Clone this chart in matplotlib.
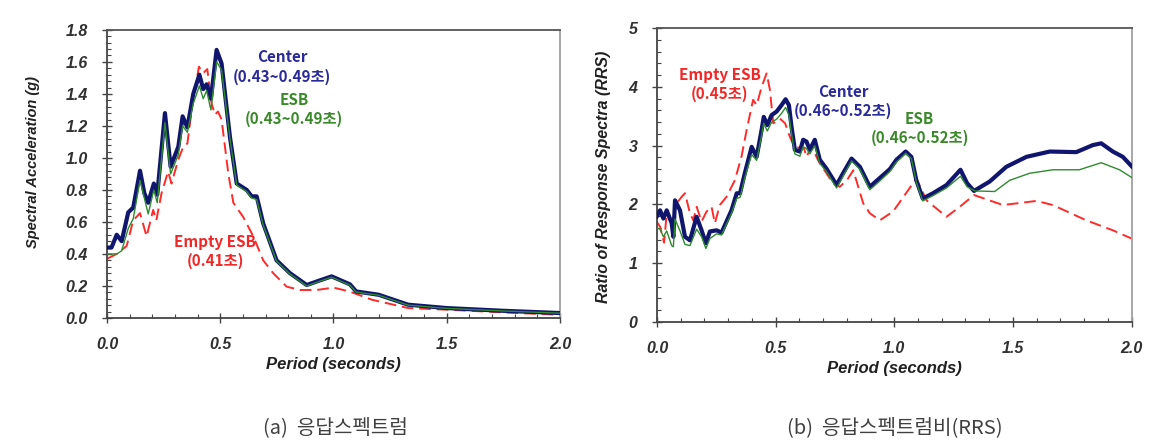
import matplotlib.pyplot as plt
from matplotlib.ticker import MultipleLocator, FormatStrFormatter

# (a) response spectrum, Sa (g)
period_a_center = [0, 0.02, 0.043, 0.065, 0.094, 0.116, 0.146, 0.165, 0.182, 0.207, 0.222, 0.256, 0.281, 0.315,
                   0.334, 0.355, 0.381, 0.408, 0.425, 0.44, 0.459, 0.484, 0.506, 0.543, 0.573, 0.617, 0.639, 0.661,
                   0.69, 0.749, 0.808, 0.882, 0.94, 0.992, 1.073, 1.10, 1.2, 1.33, 1.5, 1.75, 2.0]
sa_center = [0.44, 0.44, 0.52, 0.48, 0.66, 0.69, 0.92, 0.78, 0.72, 0.84, 0.77, 1.28, 0.945, 1.07, 1.26, 1.19, 1.40,
             1.52, 1.43, 1.46, 1.37, 1.675, 1.59, 1.13, 0.84, 0.80, 0.76, 0.76, 0.59, 0.36, 0.28, 0.206, 0.235, 0.26,
             0.21, 0.166, 0.145, 0.083, 0.062, 0.045, 0.031]

period_a_esb = [0, 0.043, 0.065, 0.094, 0.116, 0.146, 0.182, 0.207, 0.222, 0.256, 0.281, 0.315, 0.334, 0.355, 0.381,
                0.408, 0.425, 0.44, 0.459, 0.484, 0.506, 0.543, 0.573, 0.617, 0.639, 0.661, 0.69, 0.749, 0.808, 0.882,
                0.94, 0.992, 1.073, 1.10, 1.2, 1.33, 1.5, 1.75, 2.0]
sa_esb = [0.40, 0.40, 0.42, 0.56, 0.62, 0.86, 0.65, 0.80, 0.72, 1.22, 0.90, 1.02, 1.20, 1.16, 1.34, 1.45, 1.37, 1.42,
          1.30, 1.60, 1.55, 1.12, 0.83, 0.79, 0.75, 0.74, 0.58, 0.355, 0.275, 0.20, 0.23, 0.255, 0.205, 0.162, 0.142,
          0.08, 0.06, 0.044, 0.03]

period_a_empty = [0, 0.043, 0.087, 0.116, 0.146, 0.175, 0.204, 0.218, 0.241, 0.27, 0.285, 0.315, 0.337, 0.355, 0.374,
                  0.406, 0.425, 0.443, 0.462, 0.477, 0.49, 0.506, 0.536, 0.558, 0.602, 0.646, 0.69, 0.734, 0.793, 0.852,
                  0.926, 1.0, 1.07, 1.17, 1.33, 1.5, 1.75, 2.0]
sa_empty = [0.37, 0.40, 0.45, 0.61, 0.655, 0.51, 0.675, 0.61, 0.78, 0.915, 0.84, 0.99, 1.07, 1.09, 1.30, 1.57, 1.53,
            1.555, 1.34, 1.27, 1.29, 1.24, 0.90, 0.72, 0.63, 0.51, 0.36, 0.28, 0.196, 0.175, 0.175, 0.19, 0.166,
            0.114, 0.062, 0.052, 0.035, 0.02]

# (b) ratio of response spectra
period_b_center = [0, 0.013, 0.027, 0.041, 0.062, 0.069, 0.076, 0.097, 0.118, 0.139, 0.167, 0.188, 0.206, 0.223,
                   0.251, 0.272, 0.314, 0.336, 0.35, 0.37, 0.399, 0.42, 0.441, 0.45, 0.465, 0.483, 0.504, 0.525,
                   0.542, 0.556, 0.567, 0.581, 0.602, 0.616, 0.63, 0.644, 0.665, 0.686, 0.714, 0.757, 0.784, 0.82,
                   0.855, 0.897, 0.939, 0.981, 1.009, 1.048, 1.072, 1.093, 1.12, 1.163, 1.22, 1.279, 1.307, 1.336,
                   1.402, 1.472, 1.557, 1.655, 1.767, 1.837, 1.872, 1.921, 1.963, 2.0]
rrs_center = [1.80, 1.90, 1.76, 1.90, 1.68, 1.45, 2.07, 1.90, 1.45, 1.39, 1.79, 1.56, 1.34, 1.54, 1.56, 1.52, 1.90,
              2.19, 2.19, 2.53, 2.98, 2.81, 3.27, 3.49, 3.35, 3.52, 3.58, 3.69, 3.79, 3.69, 3.32, 2.93, 2.90, 3.10,
              3.07, 2.93, 3.10, 2.76, 2.61, 2.33, 2.53, 2.78, 2.64, 2.30, 2.45, 2.60, 2.76, 2.90, 2.81, 2.41, 2.10,
              2.19, 2.33, 2.59, 2.36, 2.23, 2.39, 2.64, 2.81, 2.90, 2.89, 3.01, 3.04, 2.90, 2.81, 2.65]

period_b_esb = [0, 0.013, 0.027, 0.041, 0.062, 0.069, 0.076, 0.097, 0.118, 0.139, 0.167, 0.188, 0.206, 0.223, 0.251,
                0.272, 0.314, 0.336, 0.35, 0.37, 0.399, 0.42, 0.441, 0.45, 0.465, 0.483, 0.504, 0.525, 0.542, 0.556,
                0.567, 0.581, 0.602, 0.616, 0.63, 0.644, 0.665, 0.686, 0.714, 0.757, 0.784, 0.82, 0.855, 0.897,
                0.939, 0.981, 1.009, 1.048, 1.072, 1.093, 1.12, 1.163, 1.22, 1.279, 1.307, 1.34, 1.423, 1.486, 1.57,
                1.669, 1.78, 1.872, 1.949, 2.0]
rrs_esb = [1.60, 1.58, 1.45, 1.55, 1.30, 1.28, 1.75, 1.55, 1.32, 1.30, 1.58, 1.45, 1.25, 1.42, 1.50, 1.48, 1.85,
           2.10, 2.12, 2.45, 2.85, 2.75, 3.18, 3.38, 3.25, 3.40, 3.45, 3.55, 3.65, 3.52, 3.20, 2.86, 2.82, 2.98,
           2.95, 2.86, 3.00, 2.70, 2.56, 2.28, 2.48, 2.74, 2.60, 2.25, 2.40, 2.56, 2.72, 2.87, 2.78, 2.38, 2.06,
           2.15, 2.28, 2.48, 2.30, 2.23, 2.22, 2.41, 2.53, 2.59, 2.59, 2.71, 2.59, 2.46]

period_b_empty = [0, 0.013, 0.03, 0.041, 0.062, 0.083, 0.104, 0.118, 0.139, 0.153, 0.167, 0.188, 0.209, 0.23, 0.244,
                  0.265, 0.293, 0.328, 0.356, 0.378, 0.405, 0.42, 0.441, 0.462, 0.476, 0.49, 0.518, 0.54, 0.56, 0.58,
                  0.62, 0.63, 0.651, 0.686, 0.714, 0.742, 0.77, 0.8, 0.827, 0.84, 0.869, 0.897, 0.939, 0.995, 1.093,
                  1.136, 1.22, 1.276, 1.336, 1.458, 1.599, 1.668, 1.809, 1.921, 2.0]
rrs_empty = [1.70, 1.62, 1.35, 1.85, 1.66, 2.02, 2.13, 2.19, 1.85, 1.73, 1.96, 1.71, 1.88, 1.96, 1.68, 1.99, 2.13,
             2.41, 2.81, 3.27, 3.78, 3.69, 4.0, 4.23, 3.95, 3.38, 3.46, 3.38, 3.15, 2.98, 2.95, 2.81, 2.98, 2.70,
             2.53, 2.36, 2.30, 2.41, 2.58, 2.41, 2.02, 1.85, 1.73, 1.88, 2.44, 2.07, 1.79, 1.96, 2.16, 1.99, 2.06,
             1.99, 1.73, 1.56, 1.42]

NAVY = '#10166e'
GREEN = '#2f8a2f'
RED = '#ff2a2a'
TXT_NAVY = '#2a2a9a'
TXT_GREEN = '#3a8a2a'
TXT_RED = '#f02828'
CJK = ['Noto Sans CJK KR', 'DejaVu Sans']
NOTE_SIZE = 11

fig = plt.figure(figsize=(11.69, 4.46), dpi=100)
ax1 = fig.add_axes([0.0915, 0.287, 0.3875, 0.646])
ax2 = fig.add_axes([0.562, 0.278, 0.406, 0.659])


def style_axes(ax, ymax, ymajor, yminor, yfmt, ylabel, ylabel_size, ylabel_xy):
    ax.set_xlim(0, 2.0)
    ax.set_ylim(0, ymax)
    ax.xaxis.set_major_locator(MultipleLocator(0.5))
    ax.xaxis.set_minor_locator(MultipleLocator(0.1))
    ax.yaxis.set_major_locator(MultipleLocator(ymajor))
    ax.yaxis.set_minor_locator(MultipleLocator(yminor))
    ax.xaxis.set_major_formatter(FormatStrFormatter('%.1f'))
    ax.yaxis.set_major_formatter(FormatStrFormatter(yfmt))
    ax.tick_params(which='both', color='#444444', top=False, right=False)
    ax.tick_params(which='major', direction='inout', length=7, width=1.0, pad=10.5)
    ax.tick_params(which='minor', direction='in', length=3, width=0.8)
    for lab in ax.get_xticklabels() + ax.get_yticklabels():
        lab.set_fontfamily('Liberation Sans')
        lab.set_fontweight('bold')
        lab.set_fontstyle('italic')
        lab.set_fontsize(11.5)
        lab.set_color('#303030')
    ax.spines['left'].set_color('#444444')
    ax.spines['bottom'].set_color('#444444')
    ax.spines['top'].set_color('#555555')
    ax.spines['right'].set_color('#a0a0a0')
    for s in ax.spines.values():
        s.set_linewidth(1.3)
    ax.set_xlabel('Period (seconds)', fontfamily='Liberation Sans', fontweight='bold', fontstyle='italic',
                  fontsize=12, color='#202020', labelpad=3)
    ax.set_ylabel(ylabel, fontfamily='Liberation Sans', fontweight='bold', fontstyle='italic',
                  fontsize=ylabel_size, color='#202020')
    ax.yaxis.set_label_coords(*ylabel_xy)


def note(ax, x, y, s, color):
    ax.text(x, y, s, color=color, family=CJK, fontweight='bold', fontsize=NOTE_SIZE, ha='center', va='center')


# (a)
ax1.plot(period_a_empty, sa_empty, color=RED, linewidth=1.4, dashes=(6, 3), zorder=2)
ax1.plot(period_a_center, sa_center, color=NAVY, linewidth=3.0, zorder=3)
ax1.plot(period_a_esb, sa_esb, color=GREEN, linewidth=1.0, zorder=4)
style_axes(ax1, 1.8, 0.2, 0.04, '%.1f', 'Spectral Acceleration (g)', 10.5, (-0.148, 0.54))

note(ax1, 0.773, 1.63, 'Center', TXT_NAVY)
note(ax1, 0.773, 1.506, '(0.43~0.49초)', TXT_NAVY)
note(ax1, 0.826, 1.36, 'ESB', TXT_GREEN)
note(ax1, 0.826, 1.244, '(0.43~0.49초)', TXT_GREEN)
note(ax1, 0.477, 0.475, 'Empty ESB', TXT_RED)
note(ax1, 0.477, 0.356, '(0.41초)', TXT_RED)

# (b)
ax2.plot(period_b_empty, rrs_empty, color=RED, linewidth=1.4, dashes=(6, 3), zorder=2)
ax2.plot(period_b_center, rrs_center, color=NAVY, linewidth=3.0, zorder=3)
ax2.plot(period_b_esb, rrs_esb, color=GREEN, linewidth=1.0, zorder=4)
style_axes(ax2, 5, 1, 0.2, '%d', 'Ratio of Response Spectra (RRS)', 11.5, (-0.097, 0.493))

note(ax2, 0.265, 4.2, 'Empty ESB', TXT_RED)
note(ax2, 0.265, 3.88, '(0.45초)', TXT_RED)
note(ax2, 0.785, 3.92, 'Center', TXT_NAVY)
note(ax2, 0.785, 3.59, '(0.46~0.52초)', TXT_NAVY)
note(ax2, 1.107, 3.45, 'ESB', TXT_GREEN)
note(ax2, 1.107, 3.13, '(0.46~0.52초)', TXT_GREEN)

# captions
fig.text(335 / 1169, 1 - 428 / 446, '(a)  응답스펙트럼', family=CJK, fontweight='light', fontsize=14.5,
         color='#404040', ha='center', va='center')
fig.text(895 / 1169, 1 - 428 / 446, '(b)  응답스펙트럼비(RRS)', family=CJK, fontweight='light', fontsize=14.5,
         color='#404040', ha='center', va='center')

fig.savefig('out.png', dpi=100, facecolor='white')
